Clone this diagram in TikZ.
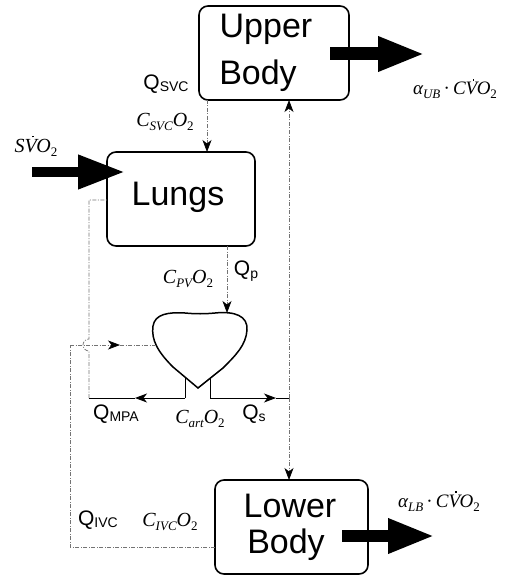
\documentclass[tikz,border=0pt]{standalone}
\usepackage{fontspec}
\setmainfont{Liberation Sans}
\newfontfamily\tms{Liberation Serif}
\usetikzlibrary{arrows.meta}
\newcommand\Qsub[1]{{\fontsize{21}{21}\selectfont Q}{\fontsize{14}{14}\selectfont\raisebox{-2.5pt}{#1}}}
\newcommand\msub[1]{\raisebox{-4pt}{\fontsize{13}{13}\selectfont #1}}
\newcommand\Vdot{\rlap{\hspace{0.36em}\raisebox{0.76em}{\rule{0.085em}{0.085em}}}V}
\begin{document}
\begin{tikzpicture}[x=1pt,y=-1pt,
  blk/.style={draw, line width=1.6pt, rounded corners=9pt, minimum height=94pt, inner sep=0pt},
  big/.style={font=\fontsize{34}{34}\selectfont, anchor=base, inner sep=0pt},
  flow/.style={draw=black!55, line width=0.7pt, dash pattern=on 4pt off 1.5pt on 1pt off 1.5pt},
  solidflow/.style={draw=black, line width=0.9pt},
  tip/.style={-{Stealth[length=12pt,width=9pt,inset=3.5pt,color=black]}},
  fat/.style={draw=black, line width=#1, -{Triangle[length=47pt,width=32pt]}},
  mlab/.style={font=\tms\itshape\fontsize{20}{20}\selectfont, inner sep=0pt},
  alab/.style={font=\tms\itshape\fontsize{19}{19}\selectfont, inner sep=0pt},
  qlab/.style={inner sep=0pt},
]
\useasboundingbox (0,0) rectangle (513,575);

% boxes
\node[blk, minimum width=150pt] (ub) at (274,53) {};
\node[blk, minimum width=148pt] (lu) at (181,199) {};
\node[blk, minimum width=153pt] (lb) at (291.5,527) {};
\node[big] (ubt1) at (266,38) {Upper};
\node[big] (ubt2) at (258,85) {Body};
\node[big] (lut) at (178,205) {Lungs};
\node[big] (lbt1) at (290,517) {Lower};
\node[big] (lbt2) at (286,553) {Body};

% heart
\draw[line width=1.5pt] (198,388) -- (173,367) .. controls (158,352) and (151,340) .. (153,326)
  .. controls (155,314) and (168,312) .. (185,313) .. controls (195,314) and (205,314) .. (215,313)
  .. controls (235,311) and (248,316) .. (247,330) .. controls (246,345) and (236,355) .. (223,368) -- cycle;

% coordinates
\coordinate (svcA) at (207,100);
\coordinate (svcB) at (207,152);
\coordinate (pvA) at (227,246);
\coordinate (pvB) at (227,313);
\coordinate (hl) at (185,377);
\coordinate (hlb) at (185,398);
\coordinate (hr) at (210,378);
\coordinate (hrb) at (210,398);
\coordinate (mpaTip) at (135,398);
\coordinate (mpaEnd) at (89,398);
\coordinate (luIn) at (107,200);
\coordinate (sTip) at (276,398);
\coordinate (sEnd) at (289,398);
\coordinate (lbIn) at (289,480);
\coordinate (ubIn) at (289,100);
\coordinate (ivcA) at (215,547);
\coordinate (ivcB) at (70,547);
\coordinate (ivcC) at (70,345);
\coordinate (ivcTip) at (120,345);
\coordinate (heartIn) at (155,345);
\coordinate (ubOutA) at (330,54);
\coordinate (ubOut) at (425,54);
\coordinate (svoA) at (32,172);
\coordinate (svoB) at (125,172);
\coordinate (lbOutA) at (342,536);
\coordinate (lbOut) at (435,536);

% thick arrows
\draw[fat=13pt] (ubOutA) -- (ubOut);
\draw[fat=10pt] (svoA) -- (svoB);
\draw[fat=12pt] (lbOutA) -- (lbOut);

% flows
\draw[flow,tip] (svcA) -- (svcB);
\draw[flow,tip] (pvA) -- (pvB);
\draw[solidflow] (hl) -- (hlb);
\draw[solidflow] (hr) -- (hrb);
\draw[solidflow,tip] (hlb) -- (mpaTip);
\draw[solidflow] (mpaTip) -- (mpaEnd);
\draw[flow] (mpaEnd) -- (89,351) arc[start angle=270,end angle=90,radius=6pt] -- (89,200) -- (luIn);
\draw[solidflow,tip] (hrb) -- (sTip);
\draw[solidflow] (sTip) -- (sEnd);
\draw[flow,tip] (sEnd) -- (lbIn);
\draw[flow,tip] (sEnd) -- (ubIn);
\draw[flow] (ivcA) -- (ivcB) -- (ivcC);
\draw[flow,tip] (ivcC) -- (ivcTip);
\draw[flow] (ivcTip) -- (heartIn);

% labels
\node[qlab] (qsvc) at (166,84) {\Qsub{SVC}};
\node[mlab] (csvc) at (165,122) {C\msub{SVC}O\msub{\upshape 2}};
\node[mlab] (svo) at (36,146) {S\Vdot O\msub{\upshape 2}};
\node[alab] (aub) at (455,89) {α\msub{UB}\,{\upshape·}\,C\Vdot O\msub{\upshape 2}};
\node[mlab] (cpv) at (188,279) {C\msub{PV}O\msub{\upshape 2}};
\node[qlab] (qp) at (246,271) {\Qsub{p}};
\node[qlab] (qmpa) at (116,414) {\Qsub{MPA}};
\node[mlab] (cart) at (200,419) {C\msub{art}O\msub{\upshape 2}};
\node[qlab] (qs) at (254,414) {\Qsub{s}};
\node[qlab] (qivc) at (98,520) {\Qsub{IVC}};
\node[mlab] (civc) at (170,522) {C\msub{IVC}O\msub{\upshape 2}};
\node[alab] (alb) at (439,501) {α\msub{LB}\,{\upshape·}\,C\Vdot O\msub{\upshape 2}};
\end{tikzpicture}
\end{document}
